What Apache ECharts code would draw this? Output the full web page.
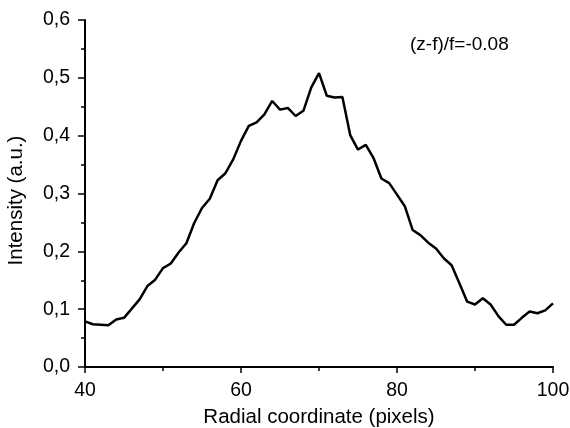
<!DOCTYPE html>
<html>
<head>
<meta charset="utf-8">
<script src="https://cdn.jsdelivr.net/npm/echarts@6/dist/echarts.min.js"></script>
<style>html,body{margin:0;padding:0;background:#fff}#c{width:570px;height:428px}</style>
</head>
<body>
<div id="c"></div>
<script>
var radial = [40,41,42,43,44,45,46,47,48,49,50,51,52,53,54,55,56,57,58,59,60,61,62,63,64,65,66,67,68,69,70,71,72,73,74,75,76,77,78,79,80,81,82,83,84,85,86,87,88,89,90,91,92,93,94,95,96,97,98,99,100];
var intensity = [0.079,0.074,0.073,0.072,0.082,0.085,0.101,0.117,0.140,0.151,0.171,0.179,0.198,0.214,0.249,0.275,0.291,0.323,0.335,0.359,0.391,0.417,0.423,0.437,0.460,0.445,0.448,0.434,0.443,0.483,0.508,0.469,0.466,0.467,0.401,0.376,0.384,0.361,0.326,0.318,0.298,0.278,0.237,0.228,0.215,0.205,0.188,0.176,0.145,0.113,0.108,0.119,0.108,0.088,0.073,0.073,0.085,0.096,0.093,0.098,0.110];
var annotation = '(z-f)/f=-0.08';
var xTitle = 'Radial coordinate (pixels)';
var yTitle = 'Intensity (a.u.)';

var pts = radial.map(function(x, i){ return [x, intensity[i]]; });
var font = 'Liberation Sans, Arial, sans-serif';
var chart = echarts.init(document.getElementById('c'), null, {renderer:'canvas'});
chart.setOption({
  animation: false,
  backgroundColor: '#fff',
  grid: {left: 85, right: 17, top: 20, bottom: 61, containLabel: false, outerBoundsMode: 'none'},
  xAxis: {
    type: 'value', min: 40, max: 100, interval: 20,
    name: xTitle, nameLocation: 'middle', nameGap: 40,
    nameTextStyle: {fontFamily: font, fontSize: 20.5, color: '#000'},
    axisLine: {show: true, lineStyle: {color: '#000', width: 2}},
    axisTick: {show: true, inside: false, length: 6, lineStyle: {color: '#000', width: 1.5}},
    minorTick: {show: true, splitNumber: 2, length: 4, lineStyle: {color: '#000', width: 1.5}},
    axisLabel: {fontFamily: font, fontSize: 19.5, color: '#000', margin: 14},
    splitLine: {show: false}
  },
  yAxis: {
    type: 'value', min: 0, max: 0.6, interval: 0.1,
    name: yTitle, nameLocation: 'middle', nameGap: 58, nameRotate: 90,
    nameTextStyle: {fontFamily: font, fontSize: 20.5, color: '#000', padding: [0, 14, 0, 0]},
    axisLine: {show: true, lineStyle: {color: '#000', width: 2}},
    axisTick: {show: true, inside: false, length: 7, lineStyle: {color: '#000', width: 1.5}},
    minorTick: {show: true, splitNumber: 2, length: 4, lineStyle: {color: '#000', width: 1.5}},
    axisLabel: {fontFamily: font, fontSize: 19.5, color: '#000', margin: 15,
      formatter: function(v){ return v.toFixed(1).replace('.', ','); }},
    splitLine: {show: false}
  },
  graphic: [{
    type: 'text', left: 410, top: 35,
    style: {text: annotation, fontFamily: font, fontSize: 19, fill: '#000'}
  }],
  series: [{
    type: 'line', data: pts, symbol: 'none', smooth: false,
    lineStyle: {color: '#000', width: 2.5}
  }]
});
</script>
</body>
</html>
